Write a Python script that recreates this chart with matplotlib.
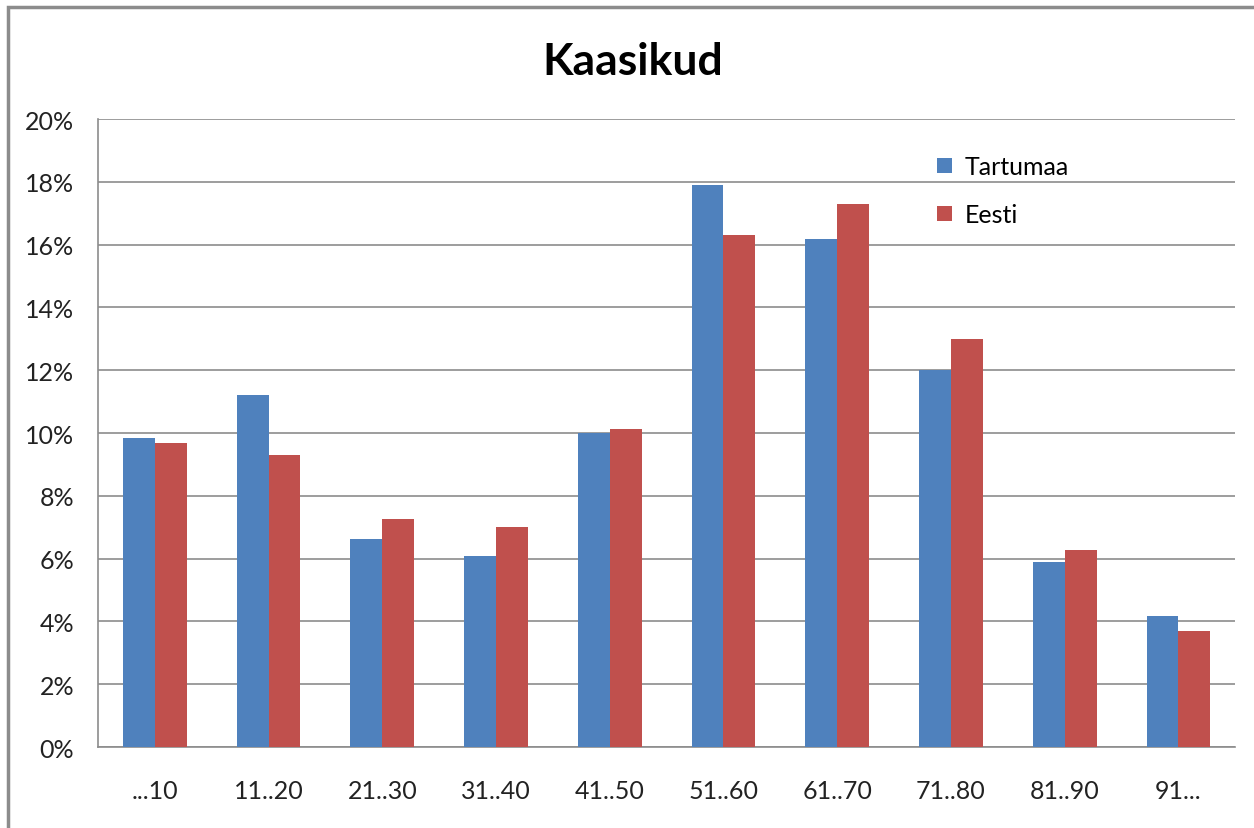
import numpy as np
import matplotlib
matplotlib.use("Agg")
import matplotlib.pyplot as plt
from matplotlib.patches import Rectangle
from matplotlib.ticker import PercentFormatter

plt.rcParams['font.family'] = ['Lato', 'DejaVu Sans']

# data
categories = ["...10", "11..20", "21..30", "31..40", "41..50",
              "51..60", "61..70", "71..80", "81..90", "91..."]
tartumaa = [9.85, 11.2, 6.62, 6.08, 10.0, 17.9, 16.18, 12.0, 5.89, 4.17]
eesti = [9.68, 9.3, 7.26, 7.0, 10.13, 16.3, 17.29, 13.0, 6.27, 3.69]

fig = plt.figure(figsize=(12.54, 8.29), dpi=100)
ax = fig.add_axes([0.0781, 0.0977, 0.907, 0.7575])

# outer chart frame
fig.patches.append(Rectangle((8 / 1254, -0.01), 1.02, 1 - 8 / 829 + 0.01,
                             transform=fig.transFigure, fill=False,
                             edgecolor='#8c8c8c', linewidth=2.5))

x = np.arange(len(categories))
w = 0.28
ax.bar(x - w / 2, tartumaa, w, color='#4F81BD', label='Tartumaa', zorder=3)
ax.bar(x + w / 2, eesti, w, color='#C0504D', label='Eesti', zorder=3)

ax.set_xlim(-0.5, len(categories) - 0.5)
ax.set_ylim(0, 20)
ax.set_yticks(np.arange(0, 21, 2))
ax.yaxis.set_major_formatter(PercentFormatter(decimals=0))
ax.set_xticks(x)
ax.set_xticklabels(categories)
ax.tick_params(axis='both', length=0, labelsize=18, colors='#222222')
ax.tick_params(axis='x', pad=23)
ax.tick_params(axis='y', pad=17)

ax.grid(axis='y', color='#8c8c8c', linewidth=1.2, zorder=0)
for s in ['top', 'right']:
    ax.spines[s].set_visible(False)
for s in ['left', 'bottom']:
    ax.spines[s].set_color('#8c8c8c')
    ax.spines[s].set_linewidth(1.2)

fig.text(633 / 1254, 1 - 62 / 829, "Kaasikud", fontsize=32, fontweight='bold',
         ha='center', va='center')

ax.legend(loc='upper left', bbox_to_anchor=(0.718, 0.978), frameon=False,
          fontsize=18, handlelength=0.6, handleheight=0.6,
          handletextpad=0.5, labelspacing=1.0)

fig.savefig("out.png", dpi=100)
